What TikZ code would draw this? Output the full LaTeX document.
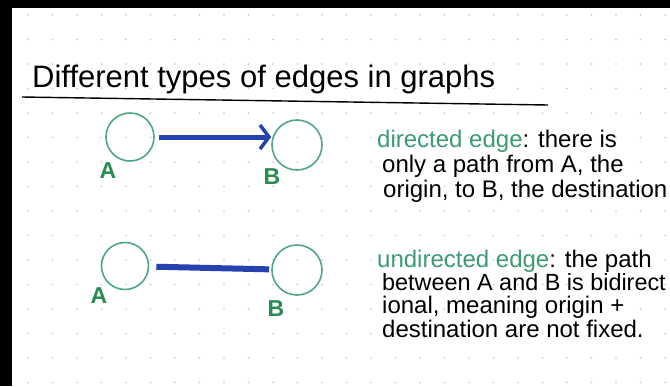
\documentclass[tikz,border=0pt]{standalone}
\usepackage{fontspec}
\setmainfont{Liberation Sans}
\usetikzlibrary{arrows.meta}
\definecolor{nodegreen}{RGB}{78,168,128}
\definecolor{labelgreen}{RGB}{38,140,80}
\definecolor{termgreen}{RGB}{60,155,115}
\definecolor{edgeblue}{RGB}{38,66,176}
\definecolor{dotgray}{RGB}{196,196,196}
\begin{document}
\begin{tikzpicture}[x=1pt,y=-1pt,
  vertex/.style={circle,draw=nodegreen,line width=1.6pt,inner sep=0pt},
  vlabel/.style={text=labelgreen,font=\fontsize{23}{23}\selectfont\bfseries,inner sep=0pt},
  edgeline/.style={draw=edgeblue,line width=5pt},
  txt/.style={anchor=base west,inner sep=0pt,font=\fontsize{24}{25}\selectfont},
  titletxt/.style={anchor=base west,inner sep=0pt,font=\fontsize{31}{31}\selectfont}]
\useasboundingbox (0,0) rectangle (670,386);
\clip (0,0) rectangle (670,386);
\fill[white] (0,0) rectangle (670,386);
% dotted paper grid
\foreach \i in {0,...,26} \foreach \j in {0,...,15}
  \fill[dotgray] (28+24.5*\i, 15+24.5*\j) circle (0.9pt);
% black scan borders
\fill[black] (0,0) rectangle (670,8);
\fill[black] (0,0) rectangle (12,386);
% title
\node[titletxt] (title) at (32,87) {Different types of edges in graphs};
\coordinate (ulA) at (22,97);
\coordinate (ulB) at (548,105);
\draw[line width=1.4pt] (ulA) -- (ulB);
% directed edge
\node[vertex,minimum size=48pt] (A1) at (130,137) {};
\node[vertex,minimum size=50pt] (B1) at (297,145) {};
\node[vlabel] (la1) at (108,171) {A};
\node[vlabel] (lb1) at (272,177) {B};
\draw[edgeline,-{Straight Barb[length=9pt,width=24pt,line width=3.5pt]},shorten <=4pt]
  (A1.east) -- (A1.east -| B1.west);
% undirected edge
\node[vertex,minimum size=47pt] (A2) at (125,266) {};
\node[vertex,minimum size=50pt] (B2) at (297,270) {};
\node[vlabel] (la2) at (99,296) {A};
\node[vlabel] (lb2) at (276,309) {B};
\draw[edgeline,line width=6pt,shorten <=7pt,shorten >=2pt] (A2) -- (B2);
% explanations
\node[txt] (d1) at (377,147) {\textcolor{termgreen}{directed edge}: there is};
\node[txt] (d2) at (382,172) {only a path from A, the};
\node[txt] (d3) at (383,197) {origin, to B, the destination};
\node[txt] (u1) at (377,267) {\textcolor{termgreen}{undirected edge}: the path};
\node[txt,font=\fontsize{23.4}{25}\selectfont] (u2) at (382,290) {between A and B is bidirect};
\node[txt] (u3) at (382,313) {ional, meaning origin +};
\node[txt] (u4) at (382,337) {destination are not fixed.};
\end{tikzpicture}
\end{document}
